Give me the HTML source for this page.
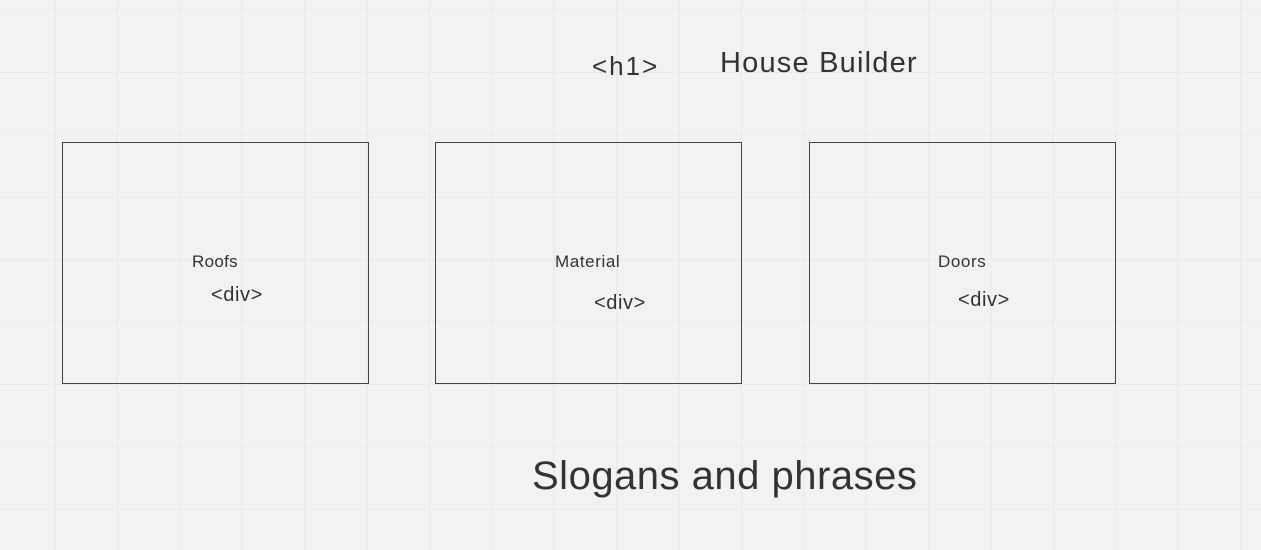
<!DOCTYPE html>
<html><head><style>
html,body{margin:0;padding:0}
body{width:1261px;height:550px;background:#f2f2f2;position:relative;overflow:hidden;font-family:"Liberation Sans",sans-serif;color:#333}
.t{position:absolute;white-space:nowrap}
.b{position:absolute;border:1.3px solid #444;box-sizing:border-box}
</style></head><body>
<svg width="1261" height="550" style="position:absolute;left:0;top:0">
<g stroke="#eaeaea" stroke-width="1.2">
<line x1="55" y1="0" x2="55" y2="550"/><line x1="117.4" y1="0" x2="117.4" y2="550"/><line x1="179.8" y1="0" x2="179.8" y2="550"/><line x1="242.2" y1="0" x2="242.2" y2="550"/><line x1="304.6" y1="0" x2="304.6" y2="550"/><line x1="367" y1="0" x2="367" y2="550"/><line x1="429.4" y1="0" x2="429.4" y2="550"/><line x1="491.8" y1="0" x2="491.8" y2="550"/><line x1="554.2" y1="0" x2="554.2" y2="550"/><line x1="616.6" y1="0" x2="616.6" y2="550"/><line x1="679" y1="0" x2="679" y2="550"/><line x1="741.4" y1="0" x2="741.4" y2="550"/><line x1="803.8" y1="0" x2="803.8" y2="550"/><line x1="866.2" y1="0" x2="866.2" y2="550"/><line x1="928.6" y1="0" x2="928.6" y2="550"/><line x1="991" y1="0" x2="991" y2="550"/><line x1="1053.4" y1="0" x2="1053.4" y2="550"/><line x1="1115.8" y1="0" x2="1115.8" y2="550"/><line x1="1178.2" y1="0" x2="1178.2" y2="550"/><line x1="1240.6" y1="0" x2="1240.6" y2="550"/>
<line x1="0" y1="10" x2="1261" y2="10"/><line x1="0" y1="72.4" x2="1261" y2="72.4"/><line x1="0" y1="134.8" x2="1261" y2="134.8"/><line x1="0" y1="197.2" x2="1261" y2="197.2"/><line x1="0" y1="259.6" x2="1261" y2="259.6"/><line x1="0" y1="322" x2="1261" y2="322"/><line x1="0" y1="384.4" x2="1261" y2="384.4"/><line x1="0" y1="446.8" x2="1261" y2="446.8"/><line x1="0" y1="509.2" x2="1261" y2="509.2"/>
</g>
</svg>
<div class="t" style="left:592px;top:51px;font-size:26px;letter-spacing:2px">&lt;h1&gt;</div>
<div class="t" style="left:720px;top:47px;font-size:29px;letter-spacing:1.2px">House Builder</div>
<div class="b" style="left:62px;top:142px;width:307px;height:242px"></div>
<div class="b" style="left:435px;top:142px;width:307px;height:242px"></div>
<div class="b" style="left:809px;top:142px;width:307px;height:242px"></div>
<div class="t" style="left:192px;top:252px;font-size:17px;letter-spacing:0.3px">Roofs</div>
<div class="t" style="left:211px;top:284px;font-size:20px;letter-spacing:0.6px">&lt;div&gt;</div>
<div class="t" style="left:555px;top:252px;font-size:17px;letter-spacing:0.6px">Material</div>
<div class="t" style="left:594px;top:292px;font-size:20px;letter-spacing:0.6px">&lt;div&gt;</div>
<div class="t" style="left:938px;top:252px;font-size:17px;letter-spacing:0.6px">Doors</div>
<div class="t" style="left:958px;top:289px;font-size:20px;letter-spacing:0.6px">&lt;div&gt;</div>
<div class="t" style="left:532px;top:454px;font-size:40px;letter-spacing:0.5px">Slogans and phrases</div>
</body></html>
